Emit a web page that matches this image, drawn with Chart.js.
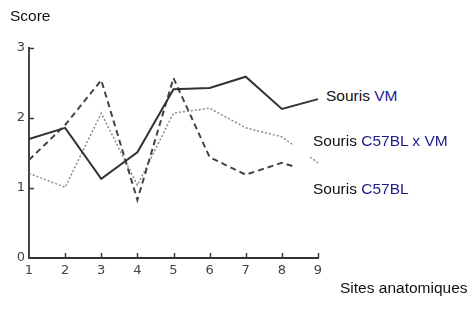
<!DOCTYPE html>
<html>
<head>
<meta charset="utf-8">
<script src="https://cdn.jsdelivr.net/npm/chart.js@4/dist/chart.umd.min.js"></script>
<style>
  html, body { margin: 0; padding: 0; background: #fff; }
  #wrap { position: relative; width: 473px; height: 311px; overflow: hidden; }
  canvas { position: absolute; left: 0; top: 0; }
  .txt { position: absolute; font-family: "Liberation Sans", Arial, sans-serif; font-size: 15.5px; line-height: 15.5px; color: #111; white-space: nowrap; }
  .box { background: #fff; }
  .blue { color: #1c1c8c; }
</style>
</head>
<body>
<div id="wrap">
  <canvas id="c" width="473" height="311"></canvas>
  <div class="txt" style="left:10px; top:8px;">Score</div>
  <div class="txt" style="left:340px; top:280px;">Sites anatomiques</div>
  <!-- label boxes sit over the line ends, like the pasted labels in the original -->
  <div class="txt box" style="left:322px; top:84px; padding:4px 4px 6px 4px;">Souris <span class="blue">VM</span></div>
  <div class="txt box" style="left:293px; top:124px; height:33px; padding:9px 4px 0 20px; box-sizing:border-box;">Souris <span class="blue">C57BL x VM</span></div>
  <div class="txt box" style="left:293px; top:166px; height:40px; padding:15px 4px 0 20px; box-sizing:border-box;">Souris <span class="blue">C57BL</span></div>
</div>
<script>
// x categories (sites anatomiques) and y ticks
const sites = ["1", "2", "3", "4", "5", "6", "7", "8", "9"];
const yTicks = [0, 1, 2, 3];

// scores
const vm       = [1.70, 1.86, 1.13, 1.51, 2.41, 2.43, 2.59, 2.13, 2.27];
const c57bl    = [1.40, 1.90, 2.54, 0.83, 2.57, 1.44, 1.19, 1.36, 1.20];
const c57blxvm = [1.21, 1.01, 2.07, 1.04, 2.07, 2.14, 1.86, 1.73, 1.36];

// short inward tick marks on both axes (like the hand-drawn original)
const tickMarks = {
  id: "tickMarks",
  afterDatasetsDraw(chart) {
    const { ctx, scales: { x, y } } = chart;
    ctx.save();
    ctx.strokeStyle = "#3a3a3a";
    ctx.lineWidth = 1.5;
    ctx.beginPath();
    yTicks.slice(1).forEach((v) => {
      const py = Math.round(y.getPixelForValue(v)) + 0.5;
      ctx.moveTo(x.left, py);
      ctx.lineTo(x.left + 5, py);
    });
    sites.slice(1).forEach((s, i) => {
      const px = Math.round(x.getPixelForValue(i + 1)) + 0.5;
      ctx.moveTo(px, y.bottom);
      ctx.lineTo(px, y.bottom - 5);
    });
    ctx.stroke();
    ctx.restore();
  },
};

const tickFont = { family: "'DejaVu Sans', sans-serif", size: 13 };

new Chart(document.getElementById("c"), {
  type: "line",
  data: {
    labels: sites,
    datasets: [
      { label: "Souris VM", data: vm, borderColor: "#333", borderWidth: 2, pointRadius: 0, tension: 0 },
      { label: "Souris C57BL", data: c57bl, borderColor: "#444", borderWidth: 2, borderDash: [6, 4], pointRadius: 0, tension: 0 },
      { label: "Souris C57BL x VM", data: c57blxvm, borderColor: "#8a8a8a", borderWidth: 1.5, borderDash: [2, 2], pointRadius: 0, tension: 0 },
    ],
  },
  options: {
    responsive: false,
    animation: false,
    layout: { padding: { left: 0, right: 155, top: 48, bottom: 33 } },
    plugins: { legend: { display: false }, tooltip: { enabled: false } },
    scales: {
      x: {
        offset: false,
        grid: { display: false, drawTicks: false },
        border: { display: true, color: "#333", width: 2 },
        ticks: { color: "#444", font: tickFont, padding: 5, maxRotation: 0, autoSkip: false },
        afterFit: (s) => { s.height = 20; },
      },
      y: {
        min: 0,
        max: 3,
        afterBuildTicks: (s) => { s.ticks = yTicks.map((v) => ({ value: v })); },
        grid: { display: false, drawTicks: false },
        border: { display: true, color: "#444", width: 2 },
        ticks: { color: "#444", font: tickFont, padding: 4 },
        afterFit: (s) => { s.width = 29; },
      },
    },
  },
  plugins: [tickMarks],
});
</script>
</body>
</html>
